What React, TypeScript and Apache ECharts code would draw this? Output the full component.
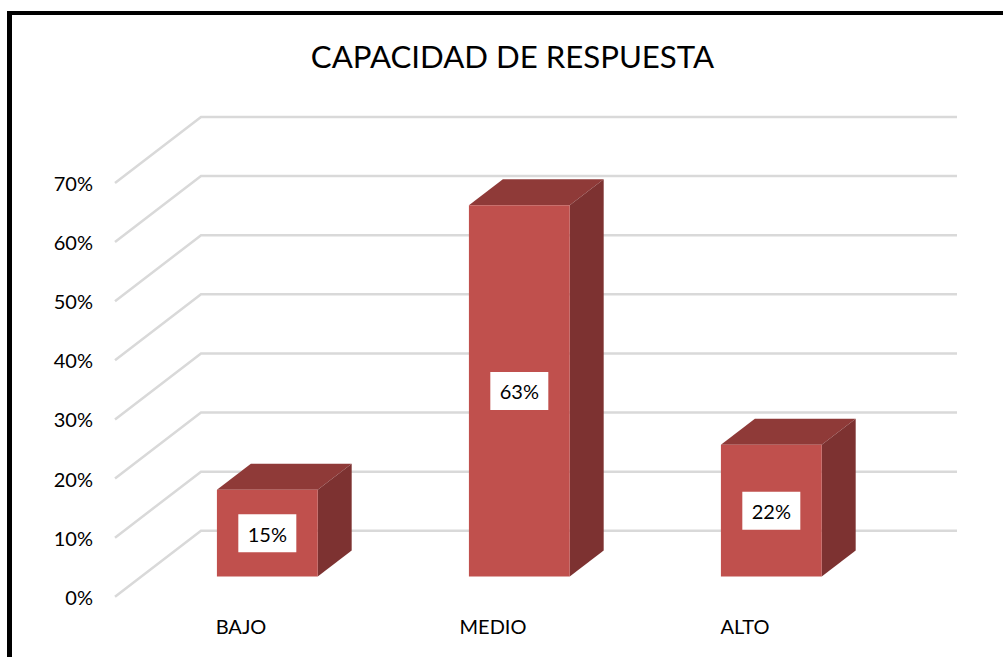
import React, { useEffect, useRef } from "react";
import * as echarts from "echarts";

const titleText = "CAPACIDAD DE RESPUESTA";
const categories = ["BAJO", "MEDIO", "ALTO"];
const values = [14.7, 62.8, 22.3];
const gridTicks = [0, 10, 20, 30, 40, 50, 60, 70];

const FONT = "Lato";
const WALL_DX = 86;
const WALL_DY = 66;
const BAR_START = 0.306;
const BAR_DEPTH = 0.395;
const BAR_WIDTH = 0.4;

export default function App() {
  const ref = useRef<HTMLDivElement>(null);

  useEffect(() => {
    const chart = echarts.init(ref.current!, undefined, { renderer: "svg" });
    chart.setOption({
      animation: false,
      backgroundColor: "#ffffff",
      title: {
        text: titleText,
        left: 507.5,
        top: 35,
        textAlign: "center",
        textStyle: { fontFamily: FONT, fontSize: 31.2, fontWeight: "normal", color: "#000000" },
      },
      grid: { left: 115, top: 183, width: 756, height: 413.8, containLabel: false },
      xAxis: {
        type: "category",
        data: categories,
        axisLine: { show: false },
        axisTick: { show: false },
        splitLine: { show: false },
        axisLabel: { fontFamily: FONT, fontSize: 20, color: "#000000", margin: 19 },
      },
      yAxis: {
        type: "value",
        min: 0,
        max: 70,
        interval: 10,
        axisLine: { show: false },
        axisTick: { show: false },
        splitLine: { show: false },
        axisLabel: { fontFamily: FONT, fontSize: 20, color: "#000000", margin: 22, formatter: "{value}%" },
      },
      graphic: [
        { type: "rect", shape: { x: 7, y: 11, width: 5, height: 646 }, style: { fill: "#000000" } },
        { type: "rect", shape: { x: 7, y: 11, width: 996, height: 4 }, style: { fill: "#000000" } },
      ],
      series: [
        {
          type: "custom",
          silent: true,
          clip: false,
          z: 1,
          data: gridTicks.map((t) => [categories[0], t]),
          renderItem: (params: any, api: any) => {
            const y = api.coord([0, api.value(1)])[1];
            const cs = params.coordSys;
            return {
              type: "polyline",
              shape: {
                points: [
                  [cs.x, y],
                  [cs.x + WALL_DX, y - WALL_DY],
                  [cs.x + cs.width + WALL_DX, y - WALL_DY],
                ],
              },
              style: { stroke: "#d9d9d9", lineWidth: 2.5, fill: "none" },
            };
          },
        },
        {
          type: "custom",
          silent: true,
          clip: false,
          z: 2,
          data: categories.map((c, i) => [c, values[i]]),
          renderItem: (_params: any, api: any) => {
            const [cx, topY] = api.coord([api.value(0), api.value(1)]);
            const baseY = api.coord([api.value(0), 0])[1];
            const w = api.size([1, 0])[0] * BAR_WIDTH;
            const l = cx - w / 2 + WALL_DX * BAR_START;
            const r = l + w;
            const b = baseY - WALL_DY * BAR_START;
            const t = topY - WALL_DY * BAR_START;
            const dx = WALL_DX * BAR_DEPTH;
            const dy = WALL_DY * BAR_DEPTH;
            const mx = (l + r) / 2;
            const my = (t + b) / 2;
            return {
              type: "group",
              children: [
                { type: "polygon", shape: { points: [[l, t], [r, t], [r + dx, t - dy], [l + dx, t - dy]] }, style: { fill: "#8f3a38" } },
                { type: "polygon", shape: { points: [[r, t], [r + dx, t - dy], [r + dx, b - dy], [r, b]] }, style: { fill: "#7d3231" } },
                { type: "rect", shape: { x: l, y: t, width: w, height: b - t }, style: { fill: "#c0504d" } },
                { type: "rect", shape: { x: mx - 29, y: my - 19, width: 58, height: 38 }, style: { fill: "#ffffff" } },
                {
                  type: "text",
                  x: mx,
                  y: my + 0.5,
                  style: {
                    text: Math.round(api.value(1)) + "%",
                    fontFamily: FONT,
                    fontSize: 20,
                    fill: "#000000",
                    align: "center",
                    verticalAlign: "middle",
                  },
                },
              ],
            };
          },
        },
      ],
    });
    return () => chart.dispose();
  }, []);

  return <div ref={ref} style={{ position: "fixed", left: 0, top: 0, width: 1003, height: 657 }} />;
}
